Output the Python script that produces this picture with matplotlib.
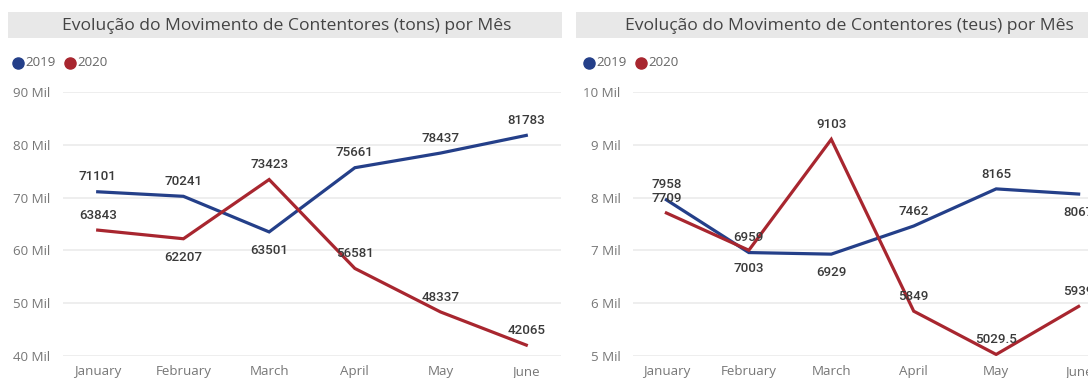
import matplotlib
matplotlib.use("Agg")
import matplotlib.pyplot as plt
from matplotlib.patches import Rectangle
from matplotlib.lines import Line2D

months = ["January", "February", "March", "April", "May", "June"]

tons_2019 = [71101, 70241, 63501, 75661, 78437, 81783]
tons_2020 = [63843, 62207, 73423, 56581, 48337, 42065]

teus_2019 = [7958, 6959, 6929, 7462, 8165, 8067]
teus_2020 = [7709, 7003, 9103, 5849, 5029.5, 5939]

tons_ticks = [40000, 50000, 60000, 70000, 80000, 90000]
teus_ticks = [5000, 6000, 7000, 8000, 9000, 10000]

# label placement: +1 above the point, -1 below
tons_pos_2019 = [1, 1, -1, 1, 1, 1]
tons_pos_2020 = [1, -1, 1, 1, 1, 1]
teus_pos_2019 = [1, 1, -1, 1, 1, -1]
teus_pos_2020 = [1, -1, 1, 1, 1, 1]

BLUE = "#243F89"
RED = "#A8262F"
GRID = "#E9E9E9"
TICK = "#777777"
LABEL = "#3A3A3A"

W, H = 1088, 378
fig = plt.figure(figsize=(W / 100, H / 100), dpi=100)
fig.patch.set_facecolor("white")


def fx(px):
    return px / W


def fy(py):
    return 1 - py / H


def fmt_value(v):
    if float(v).is_integer():
        return str(int(v))
    return str(v)


def panel(x0, x1, box_x0, box_x1, title, s19, s20, p19, p20, ticks, leg_x):
    # title bar
    fig.patches.append(Rectangle((fx(box_x0), fy(38)), fx(box_x1 - box_x0), (38 - 12) / H,
                                 transform=fig.transFigure, facecolor="#E8E8E8",
                                 edgecolor="none", zorder=0))
    fig.text(fx((box_x0 + box_x1) / 2 + 2), fy(25.5), title, ha="center", va="center",
             fontsize=12.6, color="#444444", family="Open Sans")

    # legend
    for i, (lab, col) in enumerate([("2019", BLUE), ("2020", RED)]):
        cx = leg_x + i * 52
        fig.add_artist(Line2D([fx(cx)], [fy(63)], marker="o", markersize=8,
                              color=col, transform=fig.transFigure))
        fig.text(fx(cx + 7), fy(63), lab, ha="left", va="center",
                 fontsize=9.6, color="#666666", family="Open Sans")

    ax = fig.add_axes([fx(x0), fy(356), fx(x1 - x0), (356 - 92) / H])
    xs = list(range(len(months)))
    ax.plot(xs, s19, color=BLUE, lw=2.3, solid_joinstyle="miter", zorder=3)
    ax.plot(xs, s20, color=RED, lw=2.3, solid_joinstyle="miter", zorder=3)

    ax.set_ylim(ticks[0], ticks[-1])
    ax.set_xlim(-0.405, 5.405)
    ax.set_yticks(ticks)
    ax.set_yticklabels([f"{int(t / 1000)} Mil" for t in ticks])
    ax.set_xticks(xs)
    ax.set_xticklabels(months)
    for sp in ax.spines.values():
        sp.set_visible(False)
    ax.grid(axis="y", color=GRID, lw=1.1, zorder=0)
    ax.tick_params(axis="y", length=0, pad=9, labelsize=9.6, labelcolor=TICK)
    ax.tick_params(axis="x", length=0, pad=6.5, labelsize=9.6, labelcolor=TICK)
    for t in ax.get_xticklabels() + ax.get_yticklabels():
        t.set_family("Open Sans")

    for series, pos in ((s19, p19), (s20, p20)):
        for x, v, p in zip(xs, series, pos):
            ax.annotate(fmt_value(v), (x, v), xytext=(0, 6 if p > 0 else -8.5),
                        textcoords="offset points", ha="center",
                        va="bottom" if p > 0 else "top",
                        fontsize=9.6, color=LABEL, family="Roboto",
                        fontweight="medium", zorder=5, clip_on=False)
    return ax


panel(63, 561, 8, 562, "Evolução do Movimento de Contentores (tons) por Mês",
      tons_2019, tons_2020, tons_pos_2019, tons_pos_2020, tons_ticks, 18)
panel(633, 1112, 576, 1118, "Evolução do Movimento de Contentores (teus) por Mês",
      teus_2019, teus_2020, teus_pos_2019, teus_pos_2020, teus_ticks, 589)

fig.savefig("out.png", dpi=100)
